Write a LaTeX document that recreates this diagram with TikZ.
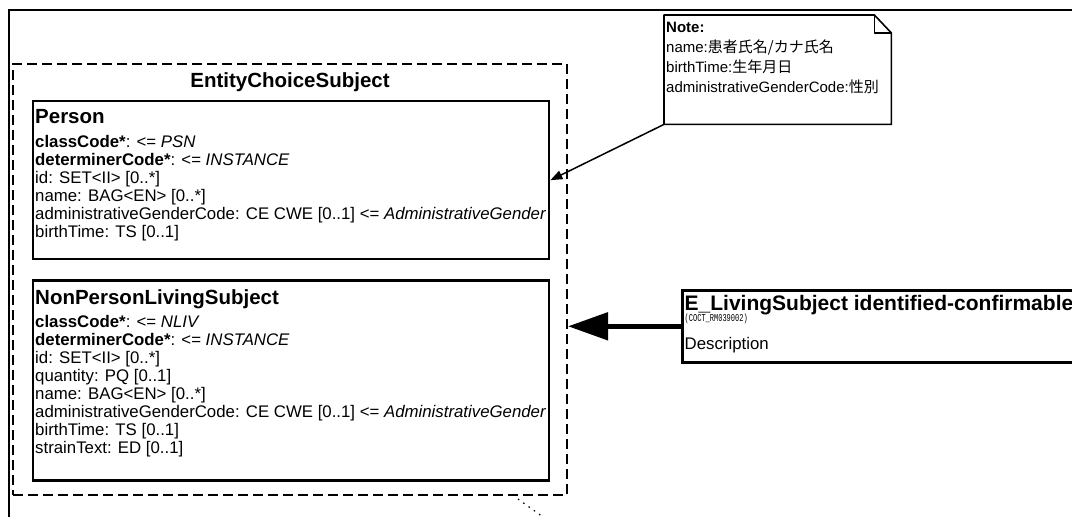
\documentclass[tikz,border=0pt]{standalone}
\usepackage{fontspec}
\usepackage{graphicx}
\setmainfont{Liberation Sans}
\newfontfamily\cjk{Noto Sans CJK JP}
\newfontfamily\cocfont{Liberation Mono}
\usetikzlibrary{positioning,arrows.meta}
\newcommand{\attrfont}{\fontsize{16.8}{18}\selectfont}
\newcommand{\clsfont}{\fontsize{20.5}{22}\selectfont\bfseries}
\newcommand{\notefont}{\fontsize{15}{20}\selectfont}

\begin{document}
\begin{tikzpicture}[x=1pt,y=-1pt,
        clsbox/.style={draw,line width=2.4pt,anchor=north west,minimum width=516.5,inner sep=0},
        clstext/.style={anchor=north west,align=left,inner xsep=3.5,inner ysep=9.6,font=\attrfont},
        choicebox/.style={draw,line width=2pt,dash pattern=on 10pt off 5pt,anchor=north west,inner sep=0},
        notebox/.style={anchor=north west,minimum width=227,minimum height=109,inner sep=0},
        noteline/.style={line width=1.6pt,line join=round},
        notearrow/.style={line width=1.5pt,-{Triangle[length=12pt,width=9pt]}},
        bigarrow/.style={line width=5pt,-{Triangle[length=40pt,width=27pt]}}
    ]
    \useasboundingbox (0,0) rectangle (1072,517);
    \clip (0,0) rectangle (1072,517);

    % outer frame
    \draw[line width=1.4pt] (9,530) -- (9,10) -- (1080,10);

    % choice
    \node[choicebox,minimum width=554,minimum height=431] (choice) at (12,63) {};
    \node[font=\clsfont] (choicetitle) at ([yshift=-19pt]choice.north) {EntityChoiceSubject};

    \node[clsbox,minimum height=158] (person) at (31.5,100) {};
    \node[clstext] (persontext) at (person.north west) {%
        {\clsfont Person}\\[5.5pt]
        \textbf{classCode*}: <= \textit{PSN}\\
        \textbf{determinerCode*}: <= \textit{INSTANCE}\\
        id: SET<II> [0..*]\\
        name: BAG<EN> [0..*]\\
        administrativeGenderCode: CE CWE [0..1] <= \textit{AdministrativeGender}\\
        birthTime: TS [0..1]};

    \node[clsbox,minimum height=200,below=19pt of person] (nonperson) {};
    \node[clstext] (nonpersontext) at (nonperson.north west) {%
        {\clsfont NonPersonLivingSubject}\\[5.5pt]
        \textbf{classCode*}: <= \textit{NLIV}\\
        \textbf{determinerCode*}: <= \textit{INSTANCE}\\
        id: SET<II> [0..*]\\
        quantity: PQ [0..1]\\
        name: BAG<EN> [0..*]\\
        administrativeGenderCode: CE CWE [0..1] <= \textit{AdministrativeGender}\\
        birthTime: TS [0..1]\\
        strainText: ED [0..1]};

    % note
    \node[notebox] (note) at (664,15) {};
    \draw[noteline] (note.south west) -- (note.north west) -- ([xshift=-17pt]note.north east)
        -- ([yshift=-18pt]note.north east) -- (note.south east) -- cycle;
    \draw[noteline] ([xshift=-17pt]note.north east) |- ([yshift=-18pt]note.north east);
    \node[anchor=north west,align=left,inner xsep=2,inner ysep=6.5,font=\notefont] (notetext) at (note.north west) {%
        \textbf{Note:}\\
        name:{\cjk 患者氏名/カナ氏名}\\
        birthTime:{\cjk 生年月日}\\
        administrativeGenderCode:{\cjk 性別}};
    \draw[notearrow] (note.south west) -- (person.east);

    % living subject
    \node[draw,line width=2.6pt,anchor=north west,minimum width=420,minimum height=72,inner sep=0] (ebox) at (681,289) {};
    \node[clstext,inner ysep=5.8] (eboxtext) at (ebox.north west) {%
        {\fontsize{21}{22}\selectfont\bfseries E\_LivingSubject identified-confirmable}\\[-7pt]
        {\fontsize{7}{8}\cocfont\scalebox{1}[1.5]{(COCT\_RM039002)}}\\[10pt]
        Description};
    \draw[bigarrow] (ebox.west) -- (ebox.west -| choice.east);

    \coordinate (dotA) at (518,499);
    \coordinate (dotB) at (550,522);
    \draw[line width=1.2pt,dash pattern=on 1.5pt off 5pt] (dotA) -- (dotB);
\end{tikzpicture}
\end{document}
